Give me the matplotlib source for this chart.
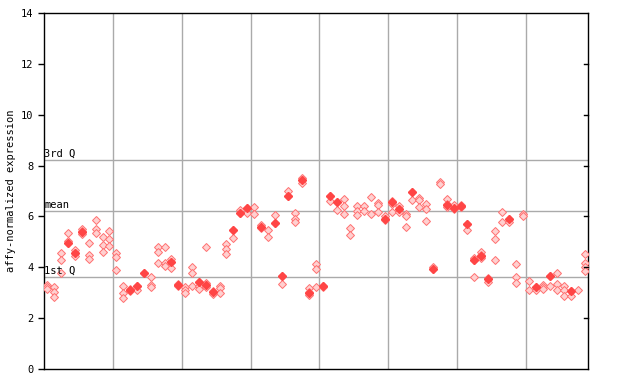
import numpy as np
import matplotlib
matplotlib.use('Agg')
import matplotlib.pyplot as plt

# values for every sample column (hollow diamonds)
samples = [
    [3.3, 3.22, 3.15], [3.22, 3.04, 2.83], [4.55, 4.27, 3.79], [5.34, 5.05, 4.95],
    [4.68, 4.58, 4.45], [5.5, 5.43, 5.3], [4.95, 4.47, 4.32], [5.85, 5.5, 5.34],
    [5.18, 4.88, 4.59], [5.43, 5.12, 4.82], [4.55, 4.4, 3.88], [3.27, 2.98, 2.78],
    [3.16, 3.08], [3.28, 3.1], [3.79], [3.6, 3.29, 3.22],
    [4.79, 4.59, 4.16], [4.79, 4.16, 4.07], [4.32, 4.22, 3.98], [3.33, 3.27],
    [3.22, 3.11, 3.0], [4.03, 3.77, 3.27], [3.44, 3.27, 3.16], [4.79, 3.37, 3.29, 3.22],
    [3.07, 2.94], [3.28, 3.2, 2.98], [4.92, 4.71, 4.51], [5.45, 5.14],
    [6.26, 6.12], [6.35, 6.13], [6.36, 6.09], [5.66, 5.54],
    [5.45, 5.21], [6.06, 5.76], [3.66, 3.35], [7.0, 6.81],
    [6.13, 5.91, 5.79], [7.5, 7.44, 7.31], [3.18, 3.03, 2.91], [4.13, 3.94, 3.24],
    [3.27, 3.22], [6.82, 6.6], [6.55, 6.25], [6.68, 6.4, 6.09],
    [5.54, 5.26], [6.4, 6.23, 6.05], [6.4, 6.23], [6.76, 6.09],
    [6.52, 6.44, 6.17], [6.0, 5.87], [6.61, 6.5, 6.17], [6.4, 6.3, 6.17],
    [6.09, 6.0, 5.58], [6.98, 6.64], [6.71, 6.64, 6.36], [6.48, 6.29, 5.81],
    [4.03, 3.92], [7.35, 7.27], [6.68, 6.48, 6.36], [6.43, 6.31],
    [6.43, 6.36], [5.72, 5.47], [4.38, 4.29, 3.62], [4.62, 4.49, 4.38],
    [3.57, 3.44], [5.43, 5.12, 4.28], [6.17, 5.79], [5.89, 5.77],
    [4.12, 3.62, 3.39], [6.09, 6.0], [3.45, 3.1], [3.22, 3.12],
    [3.29, 3.22, 3.14], [3.66, 3.27], [3.77, 3.35, 3.11], [3.27, 3.12, 2.89],
    [3.07, 2.89], [3.1], [4.51, 4.16, 4.0, 3.87],
]

# solid diamonds: column index and value
filled_idx = [3, 4, 5, 12, 13, 14, 18, 19, 22, 23, 24, 27, 28, 29, 31, 33, 34, 35,
              37, 38, 40, 41, 42, 49, 50, 51, 53, 56, 58, 59, 60, 61, 62, 63, 64,
              67, 71, 73, 76]
filled_val = [4.95, 4.55, 5.38, 3.1, 3.28, 3.79, 4.22, 3.3, 3.41, 3.3, 3.03, 5.45,
              6.15, 6.33, 5.6, 5.76, 3.66, 6.81, 7.44, 2.98, 3.27, 6.82, 6.55,
              5.9, 6.55, 6.3, 6.98, 3.95, 6.45, 6.35, 6.4, 5.72, 4.3, 4.45, 3.55,
              5.9, 3.22, 3.66, 3.07]

q1, mean, q3 = 3.62, 6.22, 8.22
group_lines = [10, 20, 30, 40, 50, 60, 70]

fig = plt.figure(figsize=(6.4, 3.84), dpi=100)
ax = fig.add_axes([44 / 640, 15 / 384, 544 / 640, 356 / 384])

hx, hy = [], []
for i, vals in enumerate(samples):
    for v in vals:
        hx.append(i + 0.5)
        hy.append(v)
ax.plot(hx, hy, 'D', ms=3.8, mfc='#ffd0d0', mec='#ff7070', mew=0.7, zorder=3)
ax.plot(np.array(filled_idx) + 0.5, filled_val, 'D', ms=4.2, color='#ff4545',
        mec='#ff4545', zorder=4)

for g in group_lines:
    ax.axvline(g, color='#aaaaaa', lw=1, zorder=1)
for v in (q1, mean, q3):
    ax.axhline(v, color='#aaaaaa', lw=1, zorder=1)

mono = 'DejaVu Sans Mono'
ax.text(0.05, q3 + 0.05, '3rd Q', fontsize=7.5, family=mono, va='bottom', ha='left', zorder=5)
ax.text(0.05, mean + 0.05, 'mean', fontsize=7.5, family=mono, va='bottom', ha='left', zorder=5)
ax.text(0.05, q1 + 0.05, '1st Q', fontsize=7.5, family=mono, va='bottom', ha='left', zorder=5)

ax.set_xlim(0, 79)
ax.set_ylim(0, 14)
ax.set_xticks([])
ax.set_yticks(range(0, 15, 2))
ax.set_yticklabels([str(t) for t in range(0, 15, 2)], family=mono, fontsize=7.5)
ax.tick_params(axis='y', direction='out', length=4, width=1)
ax.set_ylabel('affy-normalized expression', family=mono, fontsize=7.5, labelpad=4)

# inward ticks on the right side
for t in range(2, 14, 2):
    ax.plot([79 - 0.6, 79], [t, t], color='black', lw=1, clip_on=False, zorder=6)

for s in ax.spines.values():
    s.set_linewidth(1)

fig.savefig('out.png', dpi=100)
